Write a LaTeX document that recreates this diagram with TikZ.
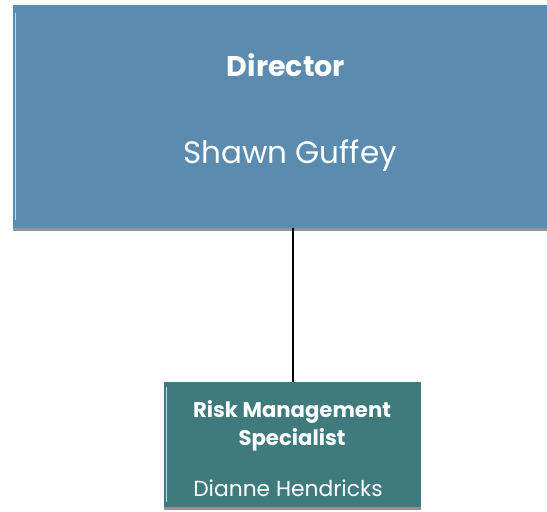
\documentclass[tikz,border=0pt]{standalone}
\usepackage{fontspec}
\setmainfont{Poppins}
\usetikzlibrary{shadows}
\definecolor{dirblue}{RGB}{91,140,176}
\definecolor{specteal}{RGB}{63,122,125}
\definecolor{bevel}{RGB}{175,222,236}
\tikzset{
  orgbox/.style={draw=none, inner sep=0pt, anchor=north west,
    drop shadow={opacity=0.6, shadow xshift=0pt, shadow yshift=-3pt, fill=black!70}},
  boxtext/.style={text=white, anchor=base, inner sep=0pt},
  bevelline/.style={draw=bevel, line width=1.8pt},
  link/.style={draw=black, line width=1.2pt}
}
\begin{document}
\begin{tikzpicture}[x=1pt,y=-1pt]
\useasboundingbox (0,0) rectangle (547,512);
\node[orgbox, fill=dirblue, minimum width=560pt, minimum height=223pt] (dir) at (13,5) {};
\node[orgbox, fill=specteal, minimum width=257pt, minimum height=125pt] (spec) at (164,382) {};
\draw[bevelline] ([xshift=2.5pt,yshift=-8pt]dir.north west) -- ([xshift=2.5pt,yshift=8pt]dir.south west);
\draw[bevelline] ([xshift=2.5pt,yshift=-5pt]spec.north west) -- ([xshift=2.5pt,yshift=5pt]spec.south west);
\node[boxtext, font=\fontsize{28.5}{32}\selectfont\bfseries] (dirtitle) at (286,76) {Director};
\node[boxtext, font=\fontsize{31}{35}\selectfont] (dirname) at (290,163) {Shawn Guffey};
\node[boxtext, font=\fontsize{21.2}{25}\selectfont\bfseries] (spectitle1) at (292,417) {Risk Management};
\node[boxtext, font=\fontsize{21.2}{25}\selectfont\bfseries] (spectitle2) at (292,445) {Specialist};
\node[boxtext, font=\fontsize{21.8}{26}\selectfont] (specname) at (288,496) {Dianne Hendricks};
\draw[link] (spec.north -| 293,0) -- (dir.south -| 293,0);
\end{tikzpicture}
\end{document}
